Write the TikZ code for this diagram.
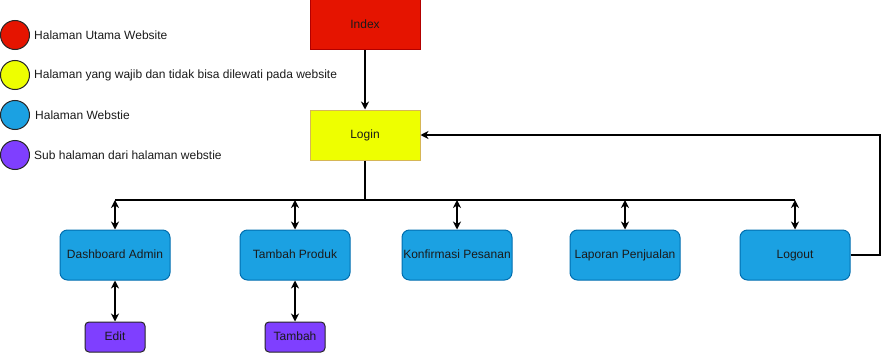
\documentclass[tikz,border=0pt]{standalone}
\usepackage{fontspec}
\setmainfont{Liberation Sans}
\usepackage{tikz}
\usetikzlibrary{positioning,arrows.meta,calc}
\definecolor{IndexRed}{HTML}{E51400}
\definecolor{IndexEdge}{HTML}{B20000}
\definecolor{LoginYellow}{HTML}{EEFF00}
\definecolor{LoginEdge}{HTML}{D6B656}
\definecolor{PageBlue}{HTML}{1BA1E2}
\definecolor{PageEdge}{HTML}{006EAF}
\definecolor{SubPurple}{HTML}{7F3FFF}
\definecolor{TextDark}{HTML}{1A1A1A}

\begin{document}
\begin{tikzpicture}[
  x=1pt,y=-1pt,
  every node/.style={font=\fontsize{12}{14}\selectfont,text=TextDark},
  boxtext/.style={text height=8.8pt,text depth=2.6pt},
  mainpage/.style={boxtext,draw=IndexEdge,fill=IndexRed,line width=1pt,
                   minimum width=110pt,minimum height=50pt,inner sep=0pt},
  gate/.style={boxtext,draw=LoginEdge,fill=LoginYellow,line width=1pt,
               minimum width=110pt,minimum height=50pt,inner sep=0pt},
  page/.style={boxtext,draw=PageEdge,fill=PageBlue,line width=1pt,rounded corners=7.5pt,
               minimum width=110pt,minimum height=50pt,inner sep=0pt},
  subpage/.style={boxtext,draw=black!85,fill=SubPurple,line width=1pt,rounded corners=4pt,
                  minimum width=60pt,minimum height=30pt,inner sep=0pt},
  dot/.style={circle,draw=black!85,line width=1pt,minimum size=29pt,inner sep=0pt},
  legend/.style={anchor=west,inner sep=0pt},
  flow/.style={-{Stealth[length=8pt,width=8pt,inset=2.5pt]},line width=1.2pt},
  both/.style={{Stealth[length=8pt,width=8pt,inset=2.5pt]}-{Stealth[length=8pt,width=8pt,inset=2.5pt]},line width=1.2pt}
]
\useasboundingbox (0,0) rectangle (889,353);

% Legend
\node[dot,fill=IndexRed] (keyred) at (15,35) {};
\node[legend] (keyredtxt) at (34,35) {Halaman Utama Website};
\node[dot,fill=LoginYellow] (keyyellow) at (15,75) {};
\node[legend] (keyyellowtxt) at (34,75) {Halaman yang wajib dan tidak bisa dilewati pada website};
\node[dot,fill=PageBlue] (keyblue) at (15,115) {};
\node[legend] (keybluetxt) at (35,115) {Halaman Webstie};
\node[dot,fill=SubPurple] (keypurple) at (15,155) {};
\node[legend] (keypurpletxt) at (34,155) {Sub halaman dari halaman webstie};

% Entry pages
\node[mainpage] (index) at (365,25) {Index};
\node[gate] (login) at (365,135) {Login};

% Website pages
\node[page] (dashboard) at (115,255) {Dashboard Admin};
\node[page] (produk) at (295,255) {Tambah Produk};
\node[page] (konfirmasi) at (457,255) {Konfirmasi Pesanan};
\node[page] (laporan) at (625,255) {Laporan Penjualan};
\node[page] (logout) at (795,255) {Logout};

% Sub pages
\node[subpage] (edit) at (115,337) {Edit};
\node[subpage] (tambah) at (295,337) {Tambah};

% Connectors
\coordinate (busY) at (0,200);
\coordinate (loopR) at (880,255);
\draw[flow] (index) -- (login);
\draw[line width=1.2pt] (login.south) -- (login.south |- busY);
\draw[line width=1.2pt] (dashboard.north |- busY) -- (logout.north |- busY);
\foreach \p in {dashboard,produk,konfirmasi,laporan,logout}
  \draw[both] (\p.north |- busY) -- (\p.north);
\draw[both] (dashboard.south) -- (edit.north);
\draw[both] (produk.south) -- (tambah.north);
\draw[flow] (logout.east) -- (logout.east -| loopR) |- (login.east);
\end{tikzpicture}
\end{document}
